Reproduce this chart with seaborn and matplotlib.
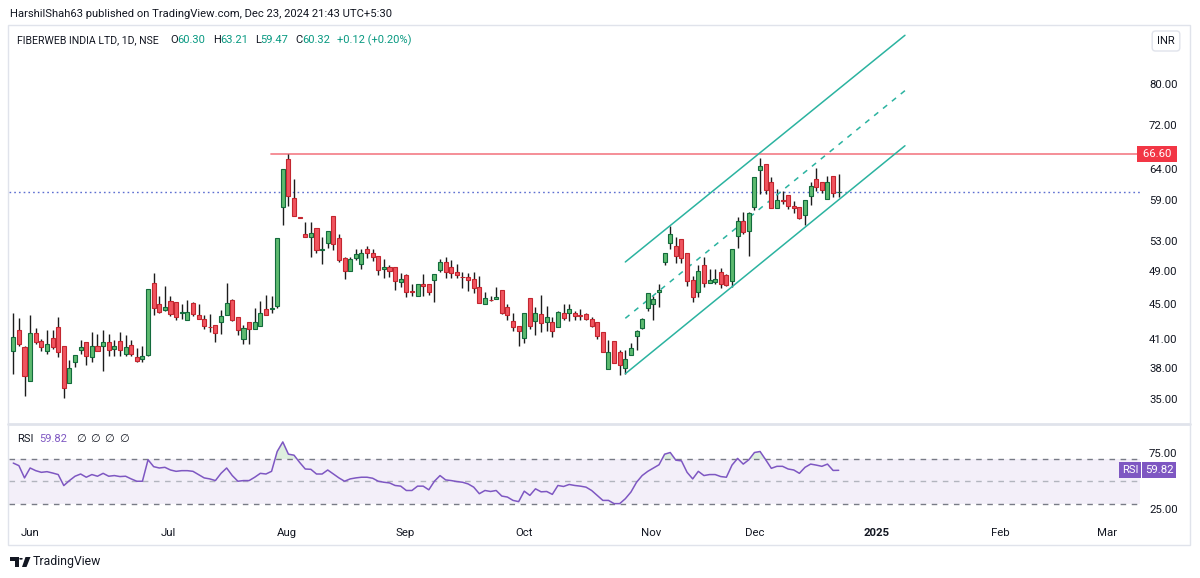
import numpy as np
import matplotlib

matplotlib.use("Agg")
import matplotlib.pyplot as plt
import seaborn as sns
from matplotlib.patches import Rectangle, Polygon, Circle
from matplotlib.lines import Line2D
from matplotlib.ticker import NullLocator

sns.set_theme(style="white")
plt.rcParams["font.family"] = ["Roboto", "DejaVu Sans"]

# ---- daily candles (FIBERWEB INDIA, NSE, 1D) ----
opens = [
    39.70, 42.04, 40.17, 36.72, 41.63, 40.84, 39.70, 41.13, 42.34, 40.23,
    36.53, 38.57, 39.81, 40.70, 39.12, 40.23, 40.23, 40.70, 39.96, 40.84,
    39.43, 40.41, 39.12, 38.92, 39.36, 47.46, 44.98, 44.24, 45.30, 45.22,
    43.93, 43.16, 45.10, 43.65, 43.27, 42.37, 42.60, 42.86, 43.65, 45.42,
    43.42, 41.06, 42.91, 42.12, 42.41, 44.32, 44.40, 44.78, 57.92, 65.78,
    59.37, 56.45, 53.99, 53.53, 54.85, 51.80, 52.83, 56.66, 53.39, 50.78,
    49.02, 50.78, 49.98, 51.90, 51.45, 51.00, 49.24, 49.59, 49.59, 47.67,
    48.46, 46.45, 45.90, 47.42, 47.42, 47.87, 49.15, 50.24, 49.54, 48.89,
    48.30, 48.30, 47.96, 47.04, 44.90, 45.45, 45.58, 46.62, 44.63, 43.05,
    42.49, 41.13, 45.70, 42.97, 43.85, 42.91, 42.86, 42.34, 43.93, 43.93,
    43.93, 43.65, 43.81, 43.27, 42.86, 41.74, 37.91, 40.77, 39.64, 38.01,
    39.29, 41.30, 42.23, 44.52, 44.90, 46.38, 50.19, 52.73, 52.35, 53.29,
    51.36, 47.83, 46.38, 49.80, 47.54, 47.62, 48.89, 48.46, 47.75, 53.75,
    55.83, 54.38, 58.01, 63.90, 64.92, 61.87, 57.77, 59.01, 59.83, 58.07,
    57.92, 56.74, 59.73, 62.41, 61.97, 59.26, 62.85, 60.30,
]
highs = [
    43.93, 43.35, 40.23, 43.65, 42.26, 41.06, 41.96, 42.04, 43.42, 40.23,
    38.78, 39.33, 40.87, 40.70, 41.78, 41.57, 41.96, 41.60, 40.87, 41.78,
    41.49, 40.87, 40.06, 40.23, 46.75, 48.81, 45.90, 47.12, 45.90, 45.22,
    44.98, 45.42, 45.18, 44.90, 43.73, 43.85, 42.60, 44.20, 47.54, 45.58,
    43.42, 42.52, 42.91, 44.52, 45.30, 45.98, 45.86, 53.39, 64.07, 66.60,
    62.41, 56.45, 55.77, 55.77, 54.85, 53.67, 54.38, 56.66, 53.99, 50.91,
    50.91, 51.90, 51.90, 52.35, 51.90, 51.00, 50.64, 49.76, 49.59, 48.72,
    48.59, 47.33, 47.42, 48.68, 47.42, 48.59, 50.55, 50.91, 50.42, 49.89,
    48.94, 48.81, 48.89, 48.43, 46.43, 45.90, 46.96, 46.62, 44.90, 43.93,
    42.49, 43.93, 45.70, 44.63, 45.98, 44.78, 43.47, 44.12, 44.90, 44.90,
    44.12, 44.32, 43.93, 43.47, 42.86, 41.74, 40.95, 40.77, 39.88, 39.81,
    40.59, 42.04, 43.35, 46.22, 45.90, 47.33, 51.36, 55.16, 53.67, 53.29,
    51.36, 48.43, 49.76, 50.86, 49.33, 49.33, 49.46, 48.59, 51.99, 56.43,
    57.16, 57.16, 62.68, 65.93, 64.92, 62.68, 60.79, 60.42, 59.83, 58.95,
    57.92, 59.10, 61.97, 64.24, 61.97, 62.85, 62.85, 63.21,
]
lows = [
    37.44, 40.23, 35.36, 36.72, 40.52, 39.70, 39.46, 39.99, 39.12, 35.12,
    36.53, 38.11, 39.46, 38.34, 38.57, 39.70, 37.67, 39.18, 39.26, 39.26,
    39.26, 39.26, 38.65, 38.57, 39.18, 43.73, 43.93, 44.12, 43.62, 43.08,
    43.24, 43.08, 43.62, 43.24, 42.15, 41.74, 40.66, 41.60, 43.65, 42.97,
    41.49, 40.52, 40.49, 42.12, 42.41, 43.65, 43.93, 44.52, 55.33, 58.17,
    56.57, 56.35, 53.53, 50.91, 51.36, 49.89, 52.13, 51.80, 50.19, 47.96,
    49.02, 50.46, 49.33, 50.78, 50.32, 48.46, 48.17, 48.30, 46.62, 47.04,
    45.78, 45.90, 45.90, 45.90, 45.98, 45.22, 48.89, 48.09, 48.09, 48.09,
    46.90, 46.50, 46.31, 45.02, 44.90, 45.30, 45.50, 43.81, 43.16, 41.85,
    40.30, 40.59, 42.12, 41.49, 41.74, 41.85, 41.24, 42.34, 43.08, 42.97,
    43.08, 43.08, 43.08, 42.34, 41.03, 39.60, 37.91, 38.51, 37.34, 37.44,
    39.29, 39.81, 42.12, 44.12, 43.08, 44.63, 49.80, 51.99, 50.11, 50.11,
    47.12, 45.22, 45.78, 47.04, 47.46, 47.42, 46.83, 47.12, 47.04, 52.04,
    54.09, 51.00, 57.52, 59.99, 59.99, 57.77, 57.77, 58.43, 57.67, 57.06,
    56.17, 55.28, 58.29, 60.51, 60.15, 59.26, 59.47, 59.47,
]
closes = [
    41.24, 40.49, 37.24, 41.63, 40.66, 40.13, 40.49, 40.17, 39.64, 36.06,
    38.01, 39.33, 40.13, 39.18, 40.30, 39.70, 40.70, 39.88, 40.30, 39.88,
    40.13, 39.43, 38.75, 39.22, 46.75, 44.44, 44.05, 44.63, 43.81, 43.47,
    44.05, 44.00, 43.81, 43.27, 42.41, 42.30, 41.68, 43.62, 45.10, 43.08,
    41.96, 42.23, 42.12, 42.91, 43.93, 43.65, 44.52, 53.39, 64.07, 59.63,
    56.66, 56.35, 53.53, 54.13, 51.80, 51.90, 54.38, 52.59, 50.46, 49.02,
    50.64, 51.22, 51.45, 51.36, 50.91, 49.15, 49.59, 49.02, 47.75, 47.96,
    46.38, 46.40, 47.42, 47.09, 46.38, 48.59, 50.24, 48.89, 48.81, 48.50,
    48.24, 47.87, 46.92, 45.02, 45.70, 45.38, 45.82, 43.93, 43.65, 42.30,
    41.85, 43.93, 42.41, 43.93, 42.80, 43.47, 41.85, 44.00, 43.35, 44.40,
    43.62, 43.60, 43.27, 42.41, 41.30, 39.60, 39.64, 38.51, 38.34, 38.92,
    40.02, 41.93, 43.24, 46.22, 45.58, 46.62, 51.36, 53.99, 51.00, 50.78,
    47.75, 45.78, 49.07, 47.54, 47.83, 48.05, 47.42, 47.25, 51.90, 55.83,
    54.32, 57.06, 62.68, 64.62, 60.67, 57.77, 59.10, 58.90, 58.07, 57.77,
    56.27, 59.10, 61.32, 61.06, 60.67, 61.87, 60.20, 60.32,
]
rsi = [
    66.3, 64.0, 53.0, 61.9, 59.5, 58.0, 58.6, 57.4, 56.0, 46.1,
    50.6, 54.5, 56.5, 53.6, 56.0, 54.5, 57.1, 54.5, 55.1, 54.2,
    54.5, 52.1, 50.0, 50.0, 69.3, 63.1, 61.9, 62.5, 60.1, 58.9,
    59.5, 59.5, 58.9, 56.0, 53.0, 52.1, 50.6, 57.1, 61.9, 55.1,
    50.0, 50.6, 50.6, 53.6, 57.1, 56.5, 58.9, 76.7, 85.3, 74.3,
    73.4, 66.9, 61.0, 60.7, 56.5, 56.5, 60.1, 56.5, 53.0, 50.0,
    52.1, 53.0, 53.6, 53.6, 52.7, 50.0, 49.1, 48.5, 46.2, 45.6,
    41.7, 41.7, 45.6, 45.6, 42.3, 50.0, 55.1, 51.2, 50.6, 49.7,
    49.1, 47.6, 44.7, 38.8, 41.7, 40.8, 41.7, 36.7, 35.8, 32.8,
    31.7, 41.1, 37.3, 43.2, 40.5, 40.8, 38.2, 46.2, 45.3, 47.1,
    46.2, 45.6, 44.7, 41.7, 37.3, 32.8, 32.8, 29.9, 29.9, 34.3,
    40.3, 49.1, 55.1, 58.9, 61.9, 64.8, 74.3, 75.8, 68.9, 68.3,
    58.0, 52.1, 58.9, 55.1, 56.0, 56.0, 54.2, 53.6, 64.5, 70.5,
    65.4, 69.3, 75.8, 76.7, 69.3, 61.6, 63.4, 63.4, 61.0, 60.1,
    57.1, 62.5, 65.4, 64.5, 63.4, 65.4, 59.7, 59.82,
]

# month labels on the bar-index axis
month_labels = ["Jun", "Jul", "Aug", "Sep", "Oct", "Nov", "Dec", "2025", "Feb", "Mar"]
month_pos = [3.0, 27.6, 48.7, 69.8, 91.0, 113.6, 132.1, 153.8, 175.7, 194.8]
price_ticks = [35, 38, 41, 45, 49, 53, 59, 64, 72, 80]
rsi_ticks = [75, 25]

# drawings: rising channel (bar index, price) and resistance
channel_x = [109.0, 158.8]
channel_low = [37.44, 68.1]
channel_mid = [43.3, 78.7]
channel_high = [50.2, 91.0]
resistance = 66.60
resistance_start = 45.9
last_close = 60.32

W, H = 1200, 578
TXT = "#131722"
GREEN_FILL, GREEN_EDGE = "#5dba6f", "#136b3c"
RED_FILL, RED_EDGE = "#f0545f", "#c3262f"
TEAL = "#2bb3a0"
PURPLE = "#7e57c2"
FS = 8.0


def fx(px):
    return px / W


def fy(py):
    return 1 - py / H


fig = plt.figure(figsize=(W / 100, H / 100), dpi=100)
fig.patch.set_facecolor("white")
XL = (-0.85, 200.66)

ax = fig.add_axes([fx(8.5), fy(423), fx(1140) - fx(8.5), (423 - 27) / H])
rax = fig.add_axes([fx(8.5), fy(520), fx(1140) - fx(8.5), (520 - 425) / H])

# ---- candles ----
o, h, l, c = map(np.asarray, (opens, highs, lows, closes))
idx = np.arange(len(o))
up = c >= o
ax.vlines(idx, l, h, color="#1c1c1c", lw=1.0, zorder=2)
for mask, fill, edge in [(up, GREEN_FILL, GREEN_EDGE), (~up, RED_FILL, RED_EDGE)]:
    bottom = np.minimum(o, c)[mask]
    height = np.maximum(np.abs(c - o)[mask], 0.07)
    ax.bar(idx[mask], height, bottom=bottom, width=0.72, color=fill,
           edgecolor=edge, linewidth=0.8, zorder=3)

ax.set_yscale("log")
ax.set_ylim(32.9, 93.0)
ax.set_xlim(*XL)

# drawings
ax.plot([resistance_start, XL[1]], [resistance, resistance], color="#f5868f", lw=1.3, zorder=1)
ax.axhline(last_close, color="#5d6fd1", lw=1.0, ls=(0, (1.2, 2.2)), zorder=1)
ax.plot(channel_x, channel_low, color=TEAL, lw=1.1)
ax.plot(channel_x, channel_high, color=TEAL, lw=1.1)
ax.plot(channel_x, channel_mid, color=TEAL, lw=1.1, ls=(0, (3.5, 4)))

ax.set_yticks(price_ticks)
ax.set_yticklabels([f"{v:.2f}" for v in price_ticks])
ax.yaxis.set_minor_locator(NullLocator())
ax.yaxis.tick_right()
ax.tick_params(axis="y", length=0, pad=6.5, labelsize=8.2, colors=TXT)
ax.set_xticks([])
for s in ax.spines.values():
    s.set_visible(False)

ax.text(1.0, resistance, " 66.60 ", transform=ax.get_yaxis_transform(), ha="left",
        va="center", color="white", fontsize=8.2,
        bbox=dict(boxstyle="square,pad=0.25", fc="#f23645", ec="none"))

# ---- RSI pane ----
r = np.asarray(rsi)
rax.axhspan(30, 70, color=PURPLE, alpha=0.09, lw=0)
rax.axhline(70, color="#787b86", lw=1, ls=(0, (4, 4)))
rax.axhline(50, color="#b2b5be", lw=1, ls=(0, (4, 4)))
rax.axhline(30, color="#787b86", lw=1, ls=(0, (4, 4)))
rax.fill_between(idx, 70, r, where=r > 70, interpolate=True, color="#4caf50", alpha=0.18, lw=0)
sns.lineplot(x=idx, y=r, ax=rax, color=PURPLE, lw=1.1)
rax.set_xlim(*XL)
rax.set_ylim(15.2, 100.5)
rax.set_yticks(rsi_ticks)
rax.set_yticklabels([f"{v:.2f}" for v in rsi_ticks])
rax.yaxis.tick_right()
rax.tick_params(axis="y", length=0, pad=6.5, labelsize=8.2, colors=TXT)
rax.set_xticks(month_pos)
rax.set_xticklabels(month_labels)
rax.tick_params(axis="x", length=0, pad=6, labelsize=8.2, colors=TXT)
for t in rax.get_xticklabels():
    if t.get_text() == "2025":
        t.set_fontweight("bold")
rax.set_xlabel("")
rax.set_ylabel("")
for s in rax.spines.values():
    s.set_visible(False)

# ---- frame and separators ----
fig.add_artist(Rectangle((fx(7.5), fy(545)), fx(1190) - fx(7.5), (545 - 25) / H,
                         transform=fig.transFigure, fill=False, ec="#e0e3eb", lw=1))
fig.add_artist(Line2D([fx(8), fx(1190)], [fy(424), fy(424)], transform=fig.transFigure,
                      color="#e0e3eb", lw=2))

# ---- texts ----
fig.text(fx(10), fy(14), "HarshilShah63 published on TradingView.com, Dec 23, 2024 21:43 UTC+5:30",
         fontsize=8.1, color=TXT, va="center")
fig.text(fx(17), fy(40), "FIBERWEB INDIA LTD, 1D, NSE", fontsize=7.6, color=TXT, va="center")
hdr = [(170, "O", "60.30"), (213, "H", "63.21"), (255, "L", "59.47"), (295, "C", "60.32")]
for px, k, v in hdr:
    fig.text(fx(px), fy(40), k, fontsize=FS, color=TXT, va="center")
    fig.text(fx(px + (7 if k in "OHC" else 5.5)), fy(40), v, fontsize=FS, color="#089981", va="center")
fig.text(fx(337), fy(40), "+0.12 (+0.20%)", fontsize=FS, color="#089981", va="center")

fig.text(fx(17), fy(439), "RSI", fontsize=FS, color=TXT, va="center")
fig.text(fx(39), fy(439), "59.82", fontsize=FS, color=PURPLE, va="center")
for px in [76, 90, 104, 119]:
    fig.text(fx(px), fy(439), "\u2205", fontsize=FS, color=TXT, va="center",
             family=["DejaVu Sans"])

fig.text(fx(1130), fy(470), "RSI", fontsize=FS, color="white", va="center", ha="center",
         bbox=dict(boxstyle="square,pad=0.25", fc=PURPLE, ec="none"))
fig.text(fx(1145), fy(470), "59.82", fontsize=8.2, color="white", va="center", ha="left",
         bbox=dict(boxstyle="square,pad=0.25", fc=PURPLE, ec="none"))

fig.text(fx(1166), fy(41), "INR", fontsize=FS, color=TXT, va="center", ha="center",
         bbox=dict(boxstyle="round,pad=0.45,rounding_size=0.3", fc="white", ec="#e0e3eb", lw=1))

# ---- TradingView logo ----
def pxy(x, y):
    return (fx(x), fy(y))


fig.add_artist(Polygon([pxy(10, 557), pxy(18.5, 557), pxy(18.5, 567), pxy(14.5, 567),
                        pxy(14.5, 560.5), pxy(10, 560.5)], closed=True,
                       transform=fig.transFigure, fc="#131722", ec="none"))
fig.add_artist(Circle(pxy(21, 558.8), 1.8 / W, transform=fig.transFigure, fc="#131722", ec="none"))
fig.add_artist(Polygon([pxy(25.5, 557), pxy(30.5, 557), pxy(26.5, 567), pxy(22, 567)],
                       closed=True, transform=fig.transFigure, fc="#131722", ec="none"))
fig.text(fx(33), fy(562), "TradingView", fontsize=8.8, color=TXT, va="center")

fig.savefig("out.png", dpi=100, facecolor="white")
